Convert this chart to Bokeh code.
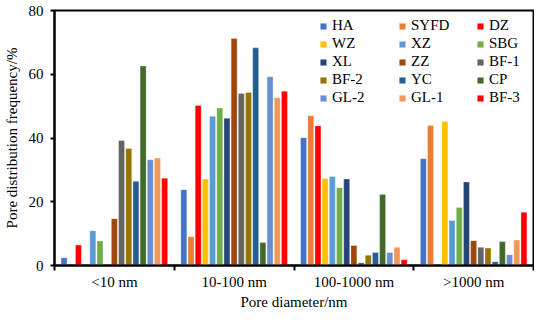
from bokeh.plotting import figure
from bokeh.models import (ColumnDataSource, Range1d, FixedTicker, CustomJSTickFormatter,
                          Legend, LegendItem)
from bokeh.transform import dodge
from bokeh.embed import file_html
from bokeh.resources import INLINE

categories = ["<10 nm", "10-100 nm", "100-1000 nm", ">1000 nm"]
series = ["HA", "SYFD", "DZ", "WZ", "XZ", "SBG", "XL", "ZZ", "BF-1",
          "BF-2", "YC", "CP", "GL-2", "GL-1", "BF-3"]
colors = ["#4472C4", "#ED7D31", "#FF0000", "#FFC000", "#5B9BD5", "#70AD47",
          "#264478", "#9E480E", "#636363", "#997300", "#255E91", "#43682B",
          "#698ED0", "#F1975A", "#FF0000"]

HA = [2.4, 23.8, 40.1, 33.5]
SYFD = [0.0, 9.0, 47.0, 43.9]
DZ = [6.4, 50.2, 43.8, 0.0]
WZ = [0.0, 27.1, 27.3, 45.2]
XZ = [10.9, 46.8, 27.9, 14.1]
SBG = [7.7, 49.4, 24.4, 18.2]
XL = [0.0, 46.2, 27.1, 26.2]
ZZ = [14.7, 71.2, 6.3, 7.8]
BF1 = [39.2, 54.0, 0.9, 5.7]
BF2 = [36.7, 54.3, 3.2, 5.5]
YC = [26.4, 68.3, 4.1, 1.2]
CP = [62.6, 7.2, 22.3, 7.5]
GL2 = [33.2, 59.2, 4.1, 3.4]
GL1 = [33.7, 52.6, 5.7, 8.0]
BF3 = [27.4, 54.7, 1.8, 16.7]

values = [HA, SYFD, DZ, WZ, XZ, SBG, XL, ZZ, BF1, BF2, YC, CP, GL2, GL1, BF3]

FONT = "Liberation Serif"

data = {"xc": [i + 0.5 for i in range(len(categories))]}
for name, vals in zip(series, values):
    data[name] = vals
source = ColumnDataSource(data)

p = figure(width=534, height=312, output_backend="svg", toolbar_location=None,
           x_range=Range1d(0, 4), y_range=Range1d(0, 80))
p.min_border_left = 50
p.min_border_right = 1
p.min_border_top = 10
p.min_border_bottom = 40
p.background_fill_color = "white"
p.border_fill_color = "white"
p.outline_line_color = "black"
p.outline_line_width = 2
p.xgrid.visible = False
p.ygrid.visible = False

pitch = 0.06
renderers = []
for i, (name, col) in enumerate(zip(series, colors)):
    r = p.vbar(x=dodge("xc", (i - 7) * pitch, range=p.x_range), top=name, width=0.05,
               bottom=0, source=source, fill_color=col, line_color="white",
               line_alpha=0.5, line_width=0.6)
    renderers.append(r)

# x axis
xa = p.xaxis[0]
xa.ticker = FixedTicker(ticks=[0.5, 1.5, 2.5, 3.5], minor_ticks=[0, 1, 2, 3, 4])
xa.formatter = CustomJSTickFormatter(args=dict(labels=categories),
                                     code="return labels[Math.floor(tick)];")
xa.major_tick_out = 0
xa.major_tick_in = 0
xa.minor_tick_out = 5
xa.minor_tick_in = 0
xa.minor_tick_line_color = "black"
xa.minor_tick_line_width = 2
xa.axis_line_width = 2
xa.axis_line_color = "black"
xa.major_label_text_font = FONT
xa.major_label_text_font_size = "15px"
xa.major_label_text_color = "black"
xa.major_label_standoff = 3
xa.axis_label = "Pore diameter/nm"
xa.axis_label_text_font = FONT
xa.axis_label_text_font_size = "15px"
xa.axis_label_text_font_style = "normal"
xa.axis_label_text_color = "black"
xa.axis_label_standoff = 1

ya = p.yaxis[0]
ya.ticker = FixedTicker(ticks=[0, 20, 40, 60, 80], minor_ticks=[])
ya.major_tick_out = 4
ya.major_tick_in = 0
ya.major_tick_line_width = 2
ya.axis_line_width = 2
ya.axis_line_color = "black"
ya.major_label_text_font = FONT
ya.major_label_text_font_size = "15px"
ya.major_label_text_color = "black"
ya.major_label_standoff = 7
ya.axis_label = "Pore distribution frequency/%"
ya.axis_label_text_font = FONT
ya.axis_label_text_font_size = "15px"
ya.axis_label_text_font_style = "normal"
ya.axis_label_text_color = "black"
ya.axis_label_standoff = 6

# legend: three columns of five entries
col_x = [265, 344, 422]
for c in range(3):
    items = [LegendItem(label=series[k], renderers=[renderers[k]])
             for k in range(c, len(series), 3)]
    leg = Legend(items=items, location=(col_x[c], 159))
    leg.padding = 0
    leg.margin = 0
    leg.spacing = 1
    leg.border_line_alpha = 0
    leg.background_fill_alpha = 0
    leg.glyph_width = 8
    leg.glyph_height = 8
    leg.label_height = 16
    leg.label_standoff = 5
    leg.label_text_font = FONT
    leg.label_text_font_size = "15px"
    leg.label_text_color = "black"
    p.add_layout(leg, "center")

open("out.html", "w").write(file_html(p, INLINE))
